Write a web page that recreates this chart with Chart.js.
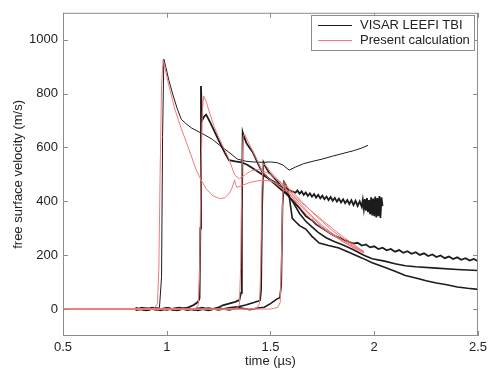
<!DOCTYPE html>
<html>
<head>
<meta charset="utf-8">
<script src="https://cdn.jsdelivr.net/npm/chart.js@4.4.0/dist/chart.umd.min.js"></script>
<style>
    body { margin: 0; background: #fff; }
    #wrap { width: 491px; height: 371px; position: relative; }
</style>
</head>
<body>
<div id="wrap"><canvas id="velocityChart"></canvas></div>
<script>
// Axis ticks
const xTicks = [0.5, 1, 1.5, 2, 2.5];
const yTicks = [0, 200, 400, 600, 800, 1000];

// Legend labels
const legendLabels = ['VISAR LEEFI TBI', 'Present calculation'];

// VISAR shot 1 (thin trace)
const visar1T = [0.85, 0.87, 0.89, 0.91, 0.93, 0.95, 0.965, 0.975, 0.98, 0.986, 0.995, 1.01, 1.03, 1.05, 1.07, 1.09, 1.12, 1.15, 1.18, 1.22, 1.255, 1.3, 1.34, 1.38, 1.42, 1.46, 1.5, 1.53, 1.56, 1.59, 1.62, 1.66, 1.7, 1.75, 1.8, 1.85, 1.9, 1.94, 1.97];
const visar1V = [3, -4, 5, -3, 4, -2, 6, 120, 640, 928, 900, 850, 795, 745, 705, 690, 672, 660, 648, 630, 608, 582, 557, 549, 546, 545, 546, 544, 535, 516, 527, 540, 548, 557, 568, 578, 588, 598, 608];

// VISAR shot 2 (noisy record ending near 2.04 us)
const visar2T = [0.85, 0.88, 0.91, 0.94, 0.97, 1.0, 1.03, 1.06, 1.09, 1.11, 1.13, 1.15, 1.158, 1.162, 1.165, 1.17, 1.18, 1.19, 1.21, 1.23, 1.255, 1.28, 1.3, 1.33, 1.36, 1.39, 1.42, 1.46, 1.5, 1.54, 1.58,
    1.62, 1.63, 1.64, 1.65, 1.66, 1.67, 1.68, 1.69, 1.7, 1.71, 1.72, 1.73, 1.74, 1.75, 1.76, 1.77, 1.78, 1.79, 1.8, 1.81, 1.82, 1.83, 1.84, 1.85, 1.86, 1.87, 1.88, 1.89, 1.9, 1.91, 1.92, 1.93, 1.94,
    1.945, 1.95, 1.955, 1.96, 1.965, 1.97, 1.975, 1.98, 1.985, 1.99, 1.995, 2.0, 2.005, 2.01, 2.015, 2.02, 2.025, 2.03, 2.035, 2.04];
const visar2V = [-3, 5, -4, 4, -5, 3, -4, 5, 2, 8, 15, 26, 40, 300, 828, 700, 715, 722, 692, 660, 619, 580, 553, 548, 545, 535, 520, 500, 480, 462, 445,
    432, 440, 428, 437, 424, 433, 420, 430, 417, 427, 414, 424, 411, 421, 408, 418, 405, 416, 402, 413, 399, 410, 396, 408, 393, 405, 390, 404, 386, 402, 383, 400, 380,
    405, 372, 408, 365, 412, 360, 405, 352, 415, 348, 410, 345, 418, 340, 412, 345, 420, 338, 415, 382];

// VISAR shot 3
const visar3T = [0.85, 0.89, 0.93, 0.97, 1.01, 1.05, 1.09, 1.13, 1.17, 1.21, 1.25, 1.27, 1.3, 1.33, 1.35, 1.358, 1.362, 1.366, 1.372, 1.385, 1.4, 1.415, 1.44, 1.46, 1.49, 1.52, 1.55, 1.58, 1.61, 1.64, 1.67, 1.7, 1.72, 1.75, 1.78, 1.8, 1.83, 1.86,
    1.9, 1.92, 1.94, 1.96, 1.98, 2.0, 2.02, 2.04, 2.06, 2.08, 2.1, 2.12, 2.14, 2.16, 2.18, 2.2, 2.22, 2.24, 2.26, 2.28, 2.3, 2.32, 2.34, 2.36, 2.38, 2.4, 2.42, 2.44, 2.46, 2.48, 2.5];
const visar3V = [4, -3, 5, -4, 3, -5, 4, -3, 5, -2, 6, 14, 20, 27, 33, 60, 350, 656, 640, 615, 598, 582, 540, 509, 485, 465, 445, 425, 400, 375, 345, 330, 315, 300, 285, 275, 265, 255,
    243, 246, 236, 240, 229, 233, 223, 228, 218, 223, 213, 219, 209, 215, 205, 211, 201, 207, 197, 203, 193, 199, 189, 195, 186, 192, 183, 189, 180, 186, 178];

// VISAR shot 4
const visar4T = [0.85, 0.9, 0.95, 1.0, 1.05, 1.1, 1.15, 1.2, 1.25, 1.3, 1.34, 1.38, 1.42, 1.45, 1.455, 1.46, 1.466, 1.475, 1.49, 1.52, 1.55, 1.58, 1.61, 1.64, 1.67, 1.7, 1.73, 1.77, 1.81, 1.85, 1.9, 1.95, 1.99, 2.05, 2.1, 2.15, 2.2, 2.3, 2.4, 2.5];
const visar4V = [-4, 4, -3, 5, -4, 3, -5, 4, -3, 5, 8, 15, 24, 32, 70, 380, 545, 530, 510, 485, 460, 430, 395, 355, 326, 305, 285, 264, 250, 238, 220, 200, 187, 178, 168, 161, 157, 152, 147, 143];

// VISAR shot 5
const visar5T = [0.85, 0.9, 0.95, 1.0, 1.05, 1.1, 1.15, 1.2, 1.25, 1.3, 1.35, 1.4, 1.44, 1.47, 1.5, 1.53, 1.545, 1.552, 1.558, 1.565, 1.575, 1.59, 1.605, 1.62, 1.64, 1.67, 1.7, 1.735, 1.78, 1.83, 1.88, 1.94, 1.99, 2.05, 2.1, 2.15, 2.2, 2.25, 2.3, 2.35, 2.4, 2.45, 2.5];
const visar5V = [3, -5, 4, -3, 5, -4, 3, -5, 4, -3, 5, -2, 4, 7, 20, 37, 42, 90, 380, 472, 460, 420, 337, 325, 310, 297, 270, 245, 236, 227, 210, 190, 172, 155, 140, 125, 115, 105, 97, 90, 82, 77, 73];

// Calculation, shots 1 to 5
const calc1T = [0.5, 0.9, 0.94, 0.955, 0.962, 0.968, 0.975, 0.982, 0.99, 1.01, 1.04, 1.07, 1.095, 1.12, 1.14, 1.165, 1.19, 1.22, 1.255, 1.28, 1.3, 1.315, 1.327, 1.332, 1.338, 1.36, 1.4, 1.45, 1.5, 1.55, 1.6, 1.65, 1.7, 1.75, 1.8, 1.85, 1.9, 1.95];
const calc1V = [0, 0, 3, 20, 150, 500, 830, 925, 900, 830, 740, 670, 619, 565, 520, 480, 447, 422, 410, 413, 428, 450, 480, 462, 452, 458, 470, 478, 476, 460, 430, 395, 362, 330, 298, 268, 240, 212];

const calc2T = [0.5, 1.1, 1.14, 1.152, 1.158, 1.165, 1.172, 1.178, 1.19, 1.21, 1.23, 1.255, 1.28, 1.3, 1.327, 1.35, 1.38, 1.41, 1.45, 1.5, 1.55, 1.6, 1.65, 1.7, 1.75, 1.8, 1.85, 1.9, 1.95];
const calc2V = [0, 0, 3, 15, 120, 500, 740, 791, 770, 720, 675, 630, 590, 557, 498, 484, 500, 515, 518, 500, 470, 440, 400, 360, 325, 290, 262, 235, 215];

const calc3T = [0.5, 1.3, 1.34, 1.35, 1.356, 1.362, 1.368, 1.375, 1.39, 1.415, 1.44, 1.46, 1.49, 1.52, 1.55, 1.58, 1.62, 1.66, 1.7, 1.75, 1.8, 1.85, 1.9, 1.95];
const calc3V = [0, 0, 4, 18, 150, 500, 640, 650, 625, 585, 545, 512, 485, 468, 450, 435, 405, 372, 340, 305, 275, 250, 228, 210];

const calc4T = [0.5, 1.4, 1.435, 1.447, 1.453, 1.459, 1.465, 1.475, 1.5, 1.53, 1.56, 1.6, 1.64, 1.68, 1.72, 1.76, 1.8, 1.85, 1.9, 1.95];
const calc4V = [0, 0, 4, 20, 150, 450, 540, 535, 510, 485, 462, 420, 380, 345, 318, 295, 275, 250, 228, 208];

const calc5T = [0.5, 1.5, 1.535, 1.547, 1.553, 1.559, 1.565, 1.575, 1.59, 1.61, 1.64, 1.67, 1.7, 1.75, 1.8, 1.85, 1.9, 1.95];
const calc5V = [0, 0, 6, 25, 180, 420, 470, 462, 445, 420, 395, 370, 345, 310, 280, 255, 232, 212];

const BLACK = '#1c1c1c';
const RED = '#f07a7a';
const FRAME = '#8c8c8c';
const FONT = '"Liberation Sans", Arial, sans-serif';

class VelocityChart {
    constructor() {
        this.chart = null;
    }

    // Turn two arrays into {x, y} points
    pontos(t, v) {
        return t.map((x, i) => ({ x: x, y: v[i] }));
    }

    serie(t, v, cor, largura, ordem) {
        return {
            data: this.pontos(t, v),
            borderColor: cor,
            borderWidth: largura,
            pointRadius: 0,
            tension: 0,
            fill: false,
            order: ordem
        };
    }

    // Box, inward ticks on all four sides, legend
    moldura() {
        return {
            id: 'moldura',
            afterDraw(chart) {
                const ctx = chart.ctx;
                const a = chart.chartArea;
                const xs = chart.scales.x;
                const ys = chart.scales.y;
                const tam = 5;
                ctx.save();
                ctx.strokeStyle = FRAME;
                ctx.lineWidth = 1;
                ctx.strokeRect(a.left + 0.5, a.top + 0.5, a.right - a.left - 1, a.bottom - a.top - 1);
                ctx.beginPath();
                xTicks.forEach(v => {
                    const px = Math.round(xs.getPixelForValue(v)) + 0.5;
                    ctx.moveTo(px, a.bottom); ctx.lineTo(px, a.bottom - tam);
                    ctx.moveTo(px, a.top); ctx.lineTo(px, a.top + tam);
                });
                yTicks.forEach(v => {
                    const py = Math.round(ys.getPixelForValue(v)) + 0.5;
                    ctx.moveTo(a.left, py); ctx.lineTo(a.left + tam, py);
                    ctx.moveTo(a.right, py); ctx.lineTo(a.right - tam, py);
                });
                ctx.stroke();

                // Legend box
                const bx = 311, by = 15, bw = 163, bh = 35;
                ctx.fillStyle = '#fff';
                ctx.fillRect(bx, by, bw, bh);
                ctx.strokeRect(bx + 0.5, by + 0.5, bw, bh);
                const cores = [BLACK, RED];
                ctx.font = '13px ' + FONT;
                ctx.textBaseline = 'middle';
                legendLabels.forEach((txt, i) => {
                    const ly = by + 10 + i * 14.5;
                    ctx.strokeStyle = cores[i];
                    ctx.beginPath();
                    ctx.moveTo(318, Math.round(ly) + 0.5);
                    ctx.lineTo(352, Math.round(ly) + 0.5);
                    ctx.stroke();
                    ctx.fillStyle = '#222';
                    ctx.fillText(txt, 360, ly + 0.5);
                });
                ctx.restore();
            }
        };
    }

    init() {
        const ctx = document.getElementById('velocityChart');
        const datasets = [
            this.serie(visar1T, visar1V, BLACK, 1, 1),
            this.serie(visar2T, visar2V, BLACK, 1.8, 1),
            this.serie(visar3T, visar3V, BLACK, 1.8, 1),
            this.serie(visar4T, visar4V, BLACK, 1.6, 1),
            this.serie(visar5T, visar5V, BLACK, 1.6, 1),
            this.serie(calc1T, calc1V, RED, 1, 0),
            this.serie(calc2T, calc2V, RED, 1, 0),
            this.serie(calc3T, calc3V, RED, 1, 0),
            this.serie(calc4T, calc4V, RED, 1, 0),
            this.serie(calc5T, calc5V, RED, 1, 0)
        ];

        this.chart = new Chart(ctx, {
            type: 'line',
            data: { datasets: datasets },
            options: {
                responsive: true,
                maintainAspectRatio: false,
                animation: false,
                layout: { padding: { left: 0, right: 12, top: 8, bottom: 0 } },
                plugins: {
                    legend: { display: false },
                    tooltip: { enabled: false }
                },
                scales: {
                    x: {
                        type: 'linear',
                        min: 0.5,
                        max: 2.5,
                        afterBuildTicks: s => { s.ticks = xTicks.map(v => ({ value: v })); },
                        afterFit: s => { s.height = 35; },
                        grid: { display: false, drawTicks: false },
                        border: { display: false },
                        ticks: {
                            padding: 4,
                            color: '#222',
                            font: { family: FONT, size: 13 },
                            callback: v => String(v)
                        },
                        title: {
                            display: true,
                            text: 'time (\u00b5s)',
                            color: '#222',
                            font: { family: FONT, size: 13 },
                            padding: { top: 0, bottom: 2 }
                        }
                    },
                    y: {
                        type: 'linear',
                        min: -100,
                        max: 1100,
                        afterBuildTicks: s => { s.ticks = yTicks.map(v => ({ value: v })); },
                        afterFit: s => { s.width = 63; },
                        grid: { display: false, drawTicks: false },
                        border: { display: false },
                        ticks: {
                            padding: 5,
                            color: '#222',
                            font: { family: FONT, size: 13 },
                            callback: v => String(v)
                        },
                        title: {
                            display: true,
                            text: 'free surface velocity (m/s)',
                            color: '#222',
                            font: { family: FONT, size: 13 },
                            padding: { top: 11, bottom: 0 }
                        }
                    }
                }
            },
            plugins: [this.moldura()]
        });
    }
}

const velocityChart = new VelocityChart();
velocityChart.init();
window.velocityChart = velocityChart;
</script>
</body>
</html>
